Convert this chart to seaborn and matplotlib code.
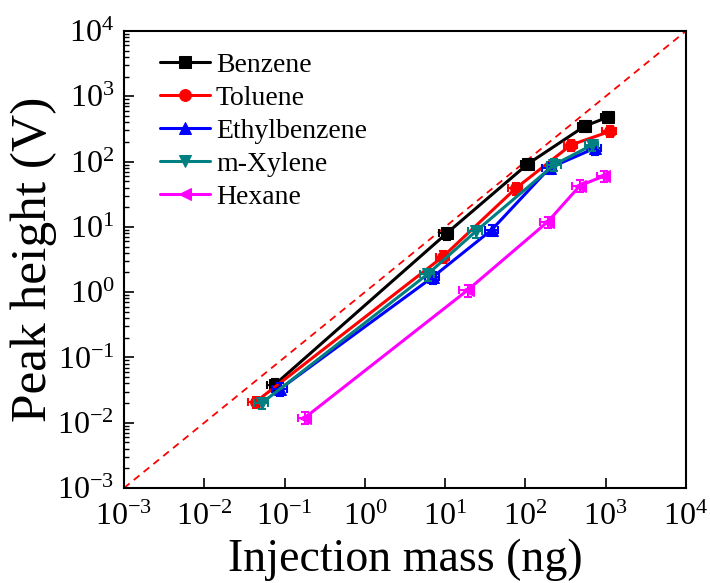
import matplotlib
matplotlib.use("Agg")
import matplotlib.pyplot as plt
import seaborn as sns
import numpy as np
import pandas as pd

# ---- data ----
series_names = ["Benzene", "Toluene", "Ethylbenzene", "m-Xylene", "Hexane"]

benzene_x = [0.075, 10.5, 107, 550, 1070]
benzene_y = [0.038, 8.0, 92, 350, 480]
toluene_x = [0.044, 9.4, 76, 370, 1130]
toluene_y = [0.021, 3.5, 39, 180, 290]
ethylbenzene_x = [0.088, 7.0, 38, 200, 730]
ethylbenzene_y = [0.033, 1.7, 9.0, 80, 160]
mxylene_x = [0.052, 6.1, 24, 230, 680]
mxylene_y = [0.020, 1.9, 8.5, 90, 180]
hexane_x = [0.18, 19, 190, 480, 950]
hexane_y = [0.012, 1.07, 12, 43, 60]

# error estimates (small)
benzene_xerr = [0.015, 2.0, 20, 100, 200]
benzene_yerr = [0.008, 1.6, 18, 70, 95]
toluene_xerr = [0.009, 1.8, 15, 70, 220]
toluene_yerr = [0.004, 0.7, 8, 35, 55]
ethylbenzene_xerr = [0.018, 1.4, 7, 40, 140]
ethylbenzene_yerr = [0.007, 0.35, 1.8, 16, 32]
mxylene_xerr = [0.010, 1.2, 5, 45, 130]
mxylene_yerr = [0.004, 0.4, 1.7, 18, 35]
hexane_xerr = [0.035, 4, 38, 95, 180]
hexane_yerr = [0.0025, 0.22, 2.4, 9, 12]

x_ticks = [1e-3, 1e-2, 1e-1, 1e0, 1e1, 1e2, 1e3, 1e4]
y_ticks = [1e-3, 1e-2, 1e-1, 1e0, 1e1, 1e2, 1e3, 1e4]
x_label = "Injection mass (ng)"
y_label = "Peak height (V)"

xs = [benzene_x, toluene_x, ethylbenzene_x, mxylene_x, hexane_x]
ys = [benzene_y, toluene_y, ethylbenzene_y, mxylene_y, hexane_y]
xerrs = [benzene_xerr, toluene_xerr, ethylbenzene_xerr, mxylene_xerr, hexane_xerr]
yerrs = [benzene_yerr, toluene_yerr, ethylbenzene_yerr, mxylene_yerr, hexane_yerr]

colors = ["#000000", "#FF0000", "#0000FF", "#008080", "#FF00FF"]
markers = ["s", "o", "^", "v", "<"]

sns.set_style("ticks")
plt.rcParams["font.family"] = ["Liberation Serif", "DejaVu Serif"]
plt.rcParams["mathtext.fontset"] = "custom"
plt.rcParams["mathtext.rm"] = "Liberation Serif"
plt.rcParams["mathtext.it"] = "Liberation Serif:italic"
plt.rcParams["mathtext.bf"] = "Liberation Serif:bold"
plt.rcParams["text.color"] = "black"
plt.rcParams["axes.labelcolor"] = "black"
plt.rcParams["xtick.color"] = "black"
plt.rcParams["ytick.color"] = "black"
plt.rcParams["axes.edgecolor"] = "black"

fig = plt.figure(figsize=(7.10, 5.83), dpi=100)
ax = fig.add_axes([124 / 710, (583 - 488) / 583, (686 - 124) / 710, (488 - 31) / 583])

# diagonal reference
ax.plot([1e-3, 1e4], [1e-3, 1e4], color="#FF0000", ls=(0, (4, 3)), lw=1.3, zorder=1)

frames = []
for name, x, y in zip(series_names, xs, ys):
    frames.append(pd.DataFrame({"mass": x, "height": y, "compound": name}))
df = pd.concat(frames, ignore_index=True)

for i, name in enumerate(series_names):
    sub = df[df["compound"] == name]
    ax.errorbar(xs[i], ys[i], xerr=xerrs[i], yerr=yerrs[i], fmt="none",
                ecolor=colors[i], elinewidth=1.5, capsize=3, capthick=1.5, zorder=2 + i)
    sns.lineplot(data=sub, x="mass", y="height", sort=False, ax=ax,
                 color=colors[i], marker=markers[i], markersize=8.5,
                 markeredgecolor=colors[i], lw=2.2, label=name, zorder=3 + i)

ax.set_xscale("log")
ax.set_yscale("log")
ax.set_xlim(1e-3, 1e4)
ax.set_ylim(1e-3, 1e4)
ax.set_xticks(x_ticks)
ax.set_yticks(y_ticks)
ax.tick_params(which="major", direction="in", length=7, width=1.2, labelsize=23,
               top=False, right=False)
ax.tick_params(axis="x", which="major", pad=11)
ax.tick_params(axis="y", which="major", pad=7)
ax.tick_params(which="minor", direction="in", length=3.5, width=1.0,
               top=False, right=False)
for sp in ax.spines.values():
    sp.set_linewidth(1.5)
    sp.set_visible(True)

ax.set_xlabel(x_label, fontsize=33, labelpad=4)
ax.set_ylabel(y_label, fontsize=37, labelpad=0)

leg = ax.legend(loc="upper left", frameon=False, fontsize=20, handlelength=1.8,
                handletextpad=0.2, labelspacing=0.27, borderaxespad=0.3,
                bbox_to_anchor=(0.03, 0.995))

fig.savefig("out.png", dpi=100)
